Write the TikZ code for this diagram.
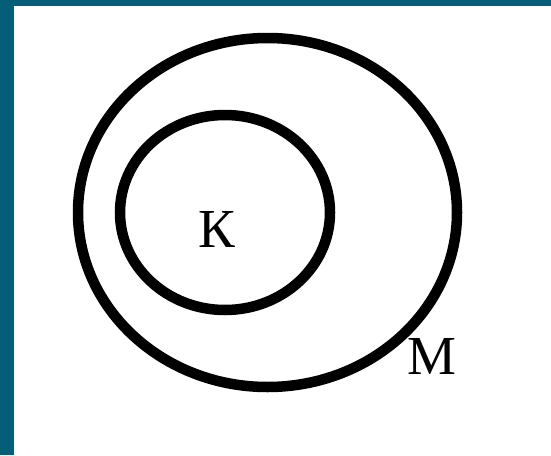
\documentclass[tikz,border=0pt]{standalone}
\usepackage{fontspec}
\setmainfont{Liberation Serif}
\definecolor{frameteal}{RGB}{4,94,120}
\tikzset{
  ring/.style={draw=black, line width=10.5pt},
  lbl/.style={font=\fontsize{55}{60}\selectfont, inner sep=0pt}
}
\begin{document}
\begin{tikzpicture}[x=1pt,y=-1pt]
\useasboundingbox (0,0) rectangle (551,455);
\fill[frameteal] (0,0) rectangle (551,455);
\fill[white] (14,6) rectangle (551,455);
\draw[ring] (267.5,212.5) ellipse [x radius=189.5, y radius=174.5];
\draw[ring] (225,212.5) ellipse [x radius=105, y radius=97.5];
\node[lbl] (k) at (217,229) {К};
\node[lbl] (m) at (432,356) {М};
\end{tikzpicture}
\end{document}
